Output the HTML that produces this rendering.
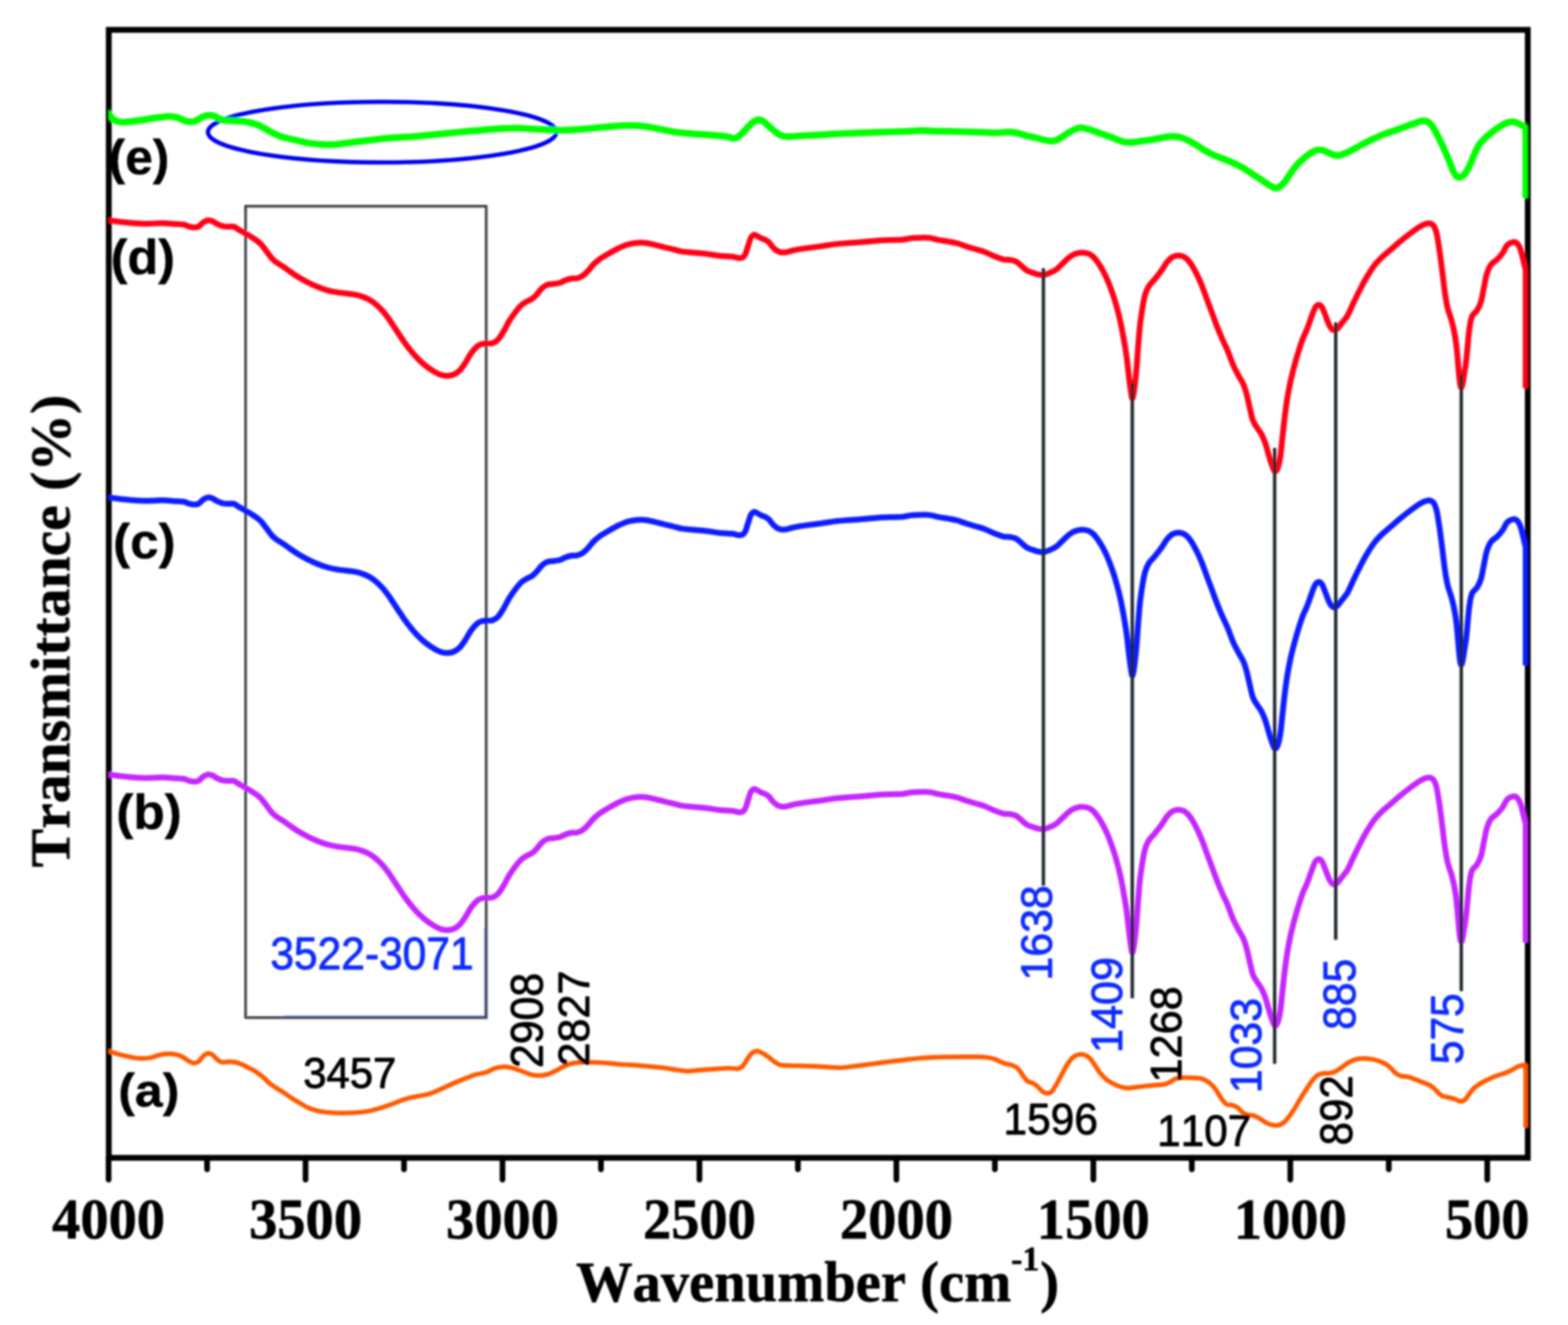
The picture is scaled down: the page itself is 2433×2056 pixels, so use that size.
<!DOCTYPE html>
<html lang="en"><head><meta charset="utf-8"><title>FTIR spectra</title>
<style>
html,body{margin:0;padding:0;background:#fff;}
body{width:2433px;height:2056px;overflow:hidden;}
svg{display:block;}
text{font-kerning:none;}
.ser{font-family:"Liberation Serif",serif;font-weight:bold;stroke:#000;stroke-width:0.9px;stroke-linejoin:round;}
.sb{font-family:"Liberation Sans",sans-serif;font-weight:bold;stroke:#000;stroke-width:0.6px;stroke-linejoin:round;}
.sn{font-family:"Liberation Sans",sans-serif;font-weight:normal;stroke-width:1.3px;stroke-linejoin:round;}
.crv{fill:none;stroke-linejoin:round;stroke-linecap:butt;}
</style></head><body>
<svg xmlns="http://www.w3.org/2000/svg" width="2433" height="2056" viewBox="0 0 2433 2056">
<defs><clipPath id="plotclip"><rect x="168.6" y="50" width="2202" height="1745"/></clipPath><filter id="soft" x="-2%" y="-2%" width="104%" height="104%"><feGaussianBlur stdDeviation="1.4"/></filter></defs>
<rect x="0" y="0" width="2433" height="2056" fill="#ffffff"/>
<g filter="url(#soft)">
<rect x="168.8" y="46.3" width="2201.8" height="1750.3" fill="none" stroke="#000" stroke-width="9.0"/>
<line x1="168.5" y1="1796.6" x2="168.5" y2="1830.5" stroke="#000" stroke-width="8.8" stroke-linecap="round"/>
<line x1="321.3" y1="1796.6" x2="321.3" y2="1814.5" stroke="#000" stroke-width="8.8" stroke-linecap="round"/>
<line x1="474.1" y1="1796.6" x2="474.1" y2="1830.5" stroke="#000" stroke-width="8.8" stroke-linecap="round"/>
<line x1="626.9" y1="1796.6" x2="626.9" y2="1814.5" stroke="#000" stroke-width="8.8" stroke-linecap="round"/>
<line x1="779.7" y1="1796.6" x2="779.7" y2="1830.5" stroke="#000" stroke-width="8.8" stroke-linecap="round"/>
<line x1="932.5" y1="1796.6" x2="932.5" y2="1814.5" stroke="#000" stroke-width="8.8" stroke-linecap="round"/>
<line x1="1085.3" y1="1796.6" x2="1085.3" y2="1830.5" stroke="#000" stroke-width="8.8" stroke-linecap="round"/>
<line x1="1238.1" y1="1796.6" x2="1238.1" y2="1814.5" stroke="#000" stroke-width="8.8" stroke-linecap="round"/>
<line x1="1390.9" y1="1796.6" x2="1390.9" y2="1830.5" stroke="#000" stroke-width="8.8" stroke-linecap="round"/>
<line x1="1543.7" y1="1796.6" x2="1543.7" y2="1814.5" stroke="#000" stroke-width="8.8" stroke-linecap="round"/>
<line x1="1696.5" y1="1796.6" x2="1696.5" y2="1830.5" stroke="#000" stroke-width="8.8" stroke-linecap="round"/>
<line x1="1849.3" y1="1796.6" x2="1849.3" y2="1814.5" stroke="#000" stroke-width="8.8" stroke-linecap="round"/>
<line x1="2002.1" y1="1796.6" x2="2002.1" y2="1830.5" stroke="#000" stroke-width="8.8" stroke-linecap="round"/>
<line x1="2154.9" y1="1796.6" x2="2154.9" y2="1814.5" stroke="#000" stroke-width="8.8" stroke-linecap="round"/>
<line x1="2307.7" y1="1796.6" x2="2307.7" y2="1830.5" stroke="#000" stroke-width="8.8" stroke-linecap="round"/>
<rect x="382.8" y="321.7" width="373.4" height="1259" fill="none" stroke="#b4bcbf" stroke-width="2.4"/>
<path d="M440 1576.6H752.2V1440" fill="none" stroke="#8f99ea" stroke-width="1.8"/>
<rect x="381" y="319.9" width="373.4" height="1259" fill="none" stroke="#232b30" stroke-width="3.6"/>
<ellipse cx="593" cy="205" rx="270.3" ry="47" fill="none" stroke="#0505f2" stroke-width="6.6"/>
<g clip-path="url(#plotclip)">
<path class="crv" d="M165.0 1629.8C165.6 1630.0 165.8 1630.0 168.6 1630.9C171.4 1631.8 177.0 1633.9 181.6 1635.2C186.2 1636.5 191.1 1637.7 195.9 1638.8C200.7 1639.9 206.0 1641.1 210.3 1641.7C214.6 1642.3 217.7 1642.5 221.8 1642.4C225.9 1642.3 230.4 1641.8 234.7 1640.9C239.0 1640.0 243.3 1638.0 247.6 1637.1C251.9 1636.1 256.3 1635.3 260.6 1635.2C264.9 1635.1 269.7 1635.8 273.5 1636.6C277.3 1637.4 280.5 1638.6 283.6 1640.2C286.7 1641.8 289.3 1644.4 292.2 1646.0C295.1 1647.6 298.2 1649.4 300.8 1649.6C303.4 1649.8 305.6 1649.2 308.0 1647.4C310.4 1645.6 312.8 1641.0 315.2 1638.8C317.6 1636.6 320.0 1634.9 322.4 1634.5C324.8 1634.1 327.1 1635.0 329.5 1636.6C331.9 1638.1 334.3 1641.9 336.7 1643.8C339.1 1645.7 341.0 1647.4 343.9 1648.1C346.8 1648.8 350.6 1647.7 354.0 1647.7C357.4 1647.7 360.4 1647.4 364.0 1648.1C367.6 1648.8 371.7 1650.1 375.5 1651.7C379.3 1653.3 383.2 1655.5 387.0 1657.5C390.8 1659.5 394.9 1661.5 398.5 1663.9C402.1 1666.3 405.2 1668.9 408.6 1671.8C412.0 1674.7 415.0 1678.3 418.6 1681.2C422.2 1684.1 426.3 1686.6 430.1 1689.1C433.9 1691.6 438.0 1693.9 441.6 1696.3C445.2 1698.7 448.2 1701.0 452.0 1703.5C455.8 1706.0 459.9 1708.6 464.4 1711.2C468.8 1713.8 473.9 1717.0 478.7 1719.1C483.5 1721.2 488.3 1722.5 493.1 1723.7C497.9 1724.9 502.7 1725.5 507.5 1726.0C512.3 1726.5 516.5 1726.8 521.8 1727.0C527.1 1727.2 533.1 1727.2 539.1 1727.0C545.1 1726.8 551.8 1726.6 557.8 1726.0C563.8 1725.4 569.5 1724.6 575.0 1723.4C580.5 1722.2 585.3 1720.8 590.8 1719.1C596.3 1717.4 602.7 1715.2 608.0 1713.3C613.3 1711.4 617.6 1709.3 622.4 1707.6C627.2 1705.9 632.0 1704.5 636.8 1703.3C641.6 1702.1 646.3 1701.4 651.1 1700.4C655.9 1699.4 660.7 1698.9 665.5 1697.5C670.3 1696.1 675.1 1693.8 679.9 1691.8C684.7 1689.8 689.5 1687.4 694.3 1685.3C699.1 1683.2 703.8 1680.9 708.6 1678.9C713.4 1676.9 718.2 1675.0 723.0 1673.1C727.8 1671.2 732.2 1669.1 737.4 1667.6C742.6 1666.1 749.2 1665.6 754.4 1663.9C759.6 1662.2 764.2 1658.8 768.7 1657.4C773.2 1656.0 777.6 1655.4 781.7 1655.3C785.8 1655.2 789.4 1655.9 793.2 1656.7C797.0 1657.5 800.9 1659.0 804.7 1660.3C808.5 1661.6 812.3 1663.3 816.1 1664.6C819.9 1665.9 823.8 1667.5 827.6 1668.2C831.4 1668.9 835.3 1669.1 839.1 1668.9C842.9 1668.7 846.8 1668.0 850.6 1666.8C854.4 1665.6 858.3 1663.6 862.1 1661.7C865.9 1659.8 870.0 1657.1 873.6 1655.3C877.2 1653.5 880.1 1652.1 883.7 1651.0C887.3 1649.9 890.9 1649.3 895.2 1648.8C899.5 1648.3 904.2 1648.1 909.5 1648.1C914.8 1648.0 920.3 1648.2 926.8 1648.5C933.3 1648.8 941.1 1649.6 948.3 1650.2C955.5 1650.8 962.7 1651.5 969.9 1652.0C977.1 1652.5 984.2 1652.9 991.4 1653.4C998.6 1654.0 1006.6 1654.7 1013.0 1655.3C1019.4 1655.9 1024.3 1656.3 1030.0 1657.0C1035.7 1657.7 1041.2 1658.8 1047.2 1659.6C1053.2 1660.4 1059.2 1662.0 1065.9 1662.1C1072.6 1662.2 1080.3 1660.8 1087.5 1660.3C1094.7 1659.8 1101.8 1659.4 1109.0 1658.9C1116.2 1658.4 1124.6 1657.6 1130.6 1657.5C1136.6 1657.4 1141.4 1658.7 1145.0 1658.2C1148.6 1657.7 1149.7 1657.0 1152.1 1654.6C1154.5 1652.2 1156.9 1647.1 1159.3 1643.8C1161.7 1640.5 1164.0 1636.7 1166.5 1634.5C1169.0 1632.3 1171.8 1631.0 1174.4 1630.9C1177.0 1630.8 1179.3 1632.2 1182.3 1633.8C1185.3 1635.3 1189.1 1637.8 1192.4 1640.2C1195.8 1642.6 1199.3 1646.1 1202.4 1648.1C1205.5 1650.1 1207.5 1651.5 1211.1 1652.4C1214.7 1653.3 1218.3 1653.2 1224.0 1653.4C1229.7 1653.7 1238.3 1653.7 1245.5 1653.9C1252.7 1654.1 1259.9 1654.2 1267.1 1654.6C1274.3 1654.9 1282.6 1655.6 1288.6 1656.0C1294.6 1656.4 1297.8 1656.9 1303.0 1656.8C1308.2 1656.7 1313.6 1655.9 1320.0 1655.2C1326.4 1654.5 1334.4 1653.3 1341.6 1652.4C1348.8 1651.5 1355.9 1650.5 1363.1 1649.6C1370.3 1648.6 1377.5 1647.6 1384.7 1646.7C1391.9 1645.8 1399.0 1645.1 1406.2 1644.3C1413.4 1643.5 1420.6 1642.6 1427.8 1642.0C1435.0 1641.4 1442.1 1641.0 1449.3 1640.7C1456.5 1640.4 1463.7 1640.3 1470.9 1640.2C1478.1 1640.1 1485.2 1640.0 1492.4 1639.9C1499.6 1639.9 1508.0 1639.8 1514.0 1639.9C1520.0 1640.0 1523.5 1640.0 1528.3 1640.5C1533.1 1641.0 1537.9 1641.6 1542.7 1643.1C1547.5 1644.6 1552.3 1647.9 1557.1 1649.6C1561.9 1651.3 1567.6 1651.7 1571.4 1653.2C1575.2 1654.8 1577.5 1656.3 1580.1 1658.9C1582.7 1661.5 1584.8 1665.9 1587.2 1669.0C1589.6 1672.1 1591.9 1675.7 1594.4 1677.6C1596.9 1679.5 1599.6 1679.2 1602.0 1680.4C1604.4 1681.6 1606.1 1682.6 1608.6 1684.7C1611.1 1686.8 1614.6 1691.3 1617.2 1693.3C1619.8 1695.3 1622.0 1696.4 1624.4 1696.5C1626.8 1696.6 1629.2 1696.3 1631.6 1694.1C1634.0 1691.9 1636.2 1687.7 1638.8 1683.3C1641.4 1678.9 1644.5 1672.8 1647.4 1667.5C1650.3 1662.2 1653.1 1656.1 1656.0 1651.7C1658.9 1647.3 1661.8 1643.4 1664.7 1640.9C1667.6 1638.4 1670.4 1637.3 1673.3 1636.6C1676.2 1635.9 1679.0 1635.8 1681.9 1636.6C1684.8 1637.4 1687.6 1638.8 1690.5 1641.6C1693.4 1644.3 1696.2 1649.0 1699.1 1653.1C1702.0 1657.2 1704.9 1662.4 1707.8 1666.0C1710.7 1669.6 1713.3 1672.2 1716.4 1674.7C1719.5 1677.2 1722.8 1679.2 1726.4 1681.1C1730.0 1683.0 1734.1 1684.9 1737.9 1686.1C1741.7 1687.3 1745.1 1688.2 1749.4 1688.3C1753.7 1688.4 1758.8 1687.5 1763.8 1686.9C1768.8 1686.4 1774.6 1685.5 1779.6 1685.0C1784.6 1684.5 1789.5 1684.0 1794.0 1683.6C1798.5 1683.2 1803.3 1683.4 1806.9 1682.6C1810.5 1681.8 1812.6 1680.5 1815.5 1679.0C1818.4 1677.5 1820.8 1675.1 1824.1 1673.9C1827.4 1672.8 1831.3 1672.3 1835.6 1672.1C1839.9 1671.9 1845.7 1672.3 1850.0 1672.5C1854.3 1672.7 1857.9 1672.5 1861.5 1673.2C1865.1 1673.9 1868.5 1675.1 1871.6 1676.8C1874.7 1678.5 1877.6 1680.8 1880.2 1683.3C1882.8 1685.8 1885.1 1688.6 1887.4 1691.9C1889.7 1695.2 1891.4 1699.4 1894.0 1703.0C1896.6 1706.6 1900.0 1711.4 1902.9 1713.4C1905.8 1715.4 1908.7 1714.0 1911.6 1714.8C1914.5 1715.6 1917.6 1716.6 1920.2 1718.4C1922.8 1720.2 1924.8 1723.7 1927.4 1725.6C1930.0 1727.5 1932.9 1728.9 1936.0 1729.9C1939.1 1730.9 1942.9 1730.4 1946.0 1731.4C1949.1 1732.4 1951.6 1733.9 1954.7 1735.7C1957.8 1737.5 1961.4 1740.4 1964.7 1742.1C1968.0 1743.8 1971.7 1745.0 1974.8 1745.7C1977.9 1746.4 1980.5 1746.7 1983.4 1746.1C1986.3 1745.5 1989.1 1744.4 1992.0 1742.1C1994.9 1739.8 1997.7 1735.9 2000.6 1732.1C2003.5 1728.3 2006.4 1723.6 2009.3 1719.1C2012.2 1714.5 2015.0 1709.5 2017.9 1704.8C2020.8 1700.1 2023.6 1695.5 2026.5 1691.1C2029.4 1686.7 2032.2 1681.9 2035.1 1678.2C2038.0 1674.5 2040.8 1671.0 2043.7 1668.9C2046.6 1666.8 2049.3 1666.3 2052.4 1665.7C2055.5 1665.1 2059.1 1665.8 2062.4 1665.3C2065.8 1664.8 2069.2 1664.0 2072.5 1662.4C2075.8 1660.8 2079.2 1658.2 2082.5 1655.9C2085.8 1653.6 2089.2 1650.7 2092.6 1648.7C2095.9 1646.7 2099.0 1645.2 2102.6 1644.1C2106.2 1643.0 2110.0 1642.4 2114.1 1642.3C2118.2 1642.2 2123.0 1642.7 2127.1 1643.3C2131.2 1643.9 2135.0 1644.9 2138.6 1646.1C2142.2 1647.2 2145.5 1648.5 2148.6 1650.2C2151.7 1652.0 2154.3 1654.0 2157.2 1656.6C2160.1 1659.1 2163.1 1663.3 2165.9 1665.5C2168.7 1667.7 2171.0 1668.8 2174.2 1669.7C2177.4 1670.6 2181.0 1670.1 2184.9 1671.1C2188.8 1672.0 2193.2 1673.9 2197.4 1675.4C2201.6 1677.0 2205.9 1678.7 2209.8 1680.4C2213.7 1682.1 2217.7 1683.2 2221.0 1685.4C2224.3 1687.6 2227.0 1691.0 2229.7 1693.5C2232.4 1696.0 2234.3 1698.8 2237.2 1700.3C2240.1 1701.8 2243.9 1702.0 2247.2 1702.8C2250.5 1703.6 2254.2 1704.3 2257.1 1705.3C2260.0 1706.3 2262.1 1708.4 2264.6 1708.7C2267.1 1709.0 2269.8 1708.7 2272.1 1707.2C2274.4 1705.7 2276.0 1702.6 2278.3 1699.7C2280.6 1696.8 2283.1 1692.5 2285.8 1689.7C2288.5 1686.9 2291.0 1685.2 2294.5 1682.9C2298.0 1680.6 2302.6 1678.2 2306.9 1676.0C2311.2 1673.8 2316.0 1671.5 2320.6 1669.8C2325.2 1668.0 2330.2 1667.0 2334.3 1665.5C2338.5 1664.0 2342.0 1662.3 2345.5 1660.5C2349.0 1658.7 2352.4 1656.2 2355.5 1654.9C2358.6 1653.6 2362.2 1652.8 2364.2 1652.6C2366.2 1652.4 2366.8 1653.3 2367.3 1653.5L2367.3 1749.6" stroke="#ff5a00" stroke-width="7.2"/>
<path class="crv" d="M165.0 1201.8C166.0 1201.9 166.9 1201.8 170.8 1202.3C174.8 1202.8 182.1 1203.8 188.7 1204.5C195.3 1205.2 203.1 1206.2 210.3 1206.6C217.5 1207.0 224.9 1207.2 231.8 1207.1C238.8 1207.0 245.8 1206.2 252.0 1206.2C258.2 1206.2 263.7 1207.0 269.2 1207.4C274.7 1207.8 280.9 1207.8 285.0 1208.5C289.1 1209.2 291.0 1211.0 293.6 1211.7C296.2 1212.4 298.4 1212.8 300.8 1212.8C303.2 1212.8 305.6 1213.0 308.0 1211.7C310.4 1210.4 312.8 1206.8 315.2 1205.2C317.6 1203.6 320.0 1202.2 322.4 1201.9C324.8 1201.6 327.1 1202.3 329.5 1203.3C331.9 1204.2 334.1 1206.3 336.7 1207.6C339.3 1208.9 342.4 1210.2 345.3 1210.9C348.2 1211.6 351.1 1211.6 354.0 1211.7C356.9 1211.8 360.0 1211.0 362.6 1211.7C365.2 1212.4 366.9 1214.3 369.8 1216.0C372.7 1217.7 376.0 1219.4 379.8 1221.7C383.6 1224.0 388.7 1226.8 392.8 1229.6C396.9 1232.3 401.0 1235.0 404.3 1238.2C407.6 1241.4 410.0 1245.3 412.9 1249.0C415.8 1252.7 418.9 1257.5 421.5 1260.5C424.1 1263.5 425.6 1264.7 428.7 1267.0C431.8 1269.3 436.6 1271.8 440.2 1274.2C443.8 1276.6 446.2 1278.7 450.2 1281.5C454.2 1284.3 459.6 1288.0 464.4 1290.9C469.1 1293.8 473.9 1296.4 478.7 1298.8C483.5 1301.2 488.3 1303.4 493.1 1305.3C497.9 1307.2 502.7 1308.9 507.5 1310.3C512.3 1311.7 517.0 1312.6 521.8 1313.4C526.6 1314.2 531.4 1314.7 536.2 1315.3C541.0 1315.9 546.3 1316.4 550.6 1317.2C554.9 1318.0 558.3 1318.9 562.1 1320.3C565.9 1321.7 570.0 1323.4 573.6 1325.4C577.2 1327.5 580.2 1329.7 583.6 1332.6C587.0 1335.5 590.6 1339.1 593.7 1342.6C596.8 1346.1 599.4 1349.5 602.3 1353.4C605.2 1357.4 608.0 1362.0 610.9 1366.3C613.8 1370.6 616.6 1375.0 619.5 1379.3C622.4 1383.6 625.1 1387.9 628.2 1392.2C631.3 1396.5 634.6 1400.8 638.2 1405.1C641.8 1409.4 645.9 1414.2 649.7 1418.0C653.5 1421.8 657.4 1425.1 661.2 1428.1C665.0 1431.1 669.1 1433.8 672.7 1436.0C676.3 1438.2 679.4 1440.1 682.8 1441.3C686.1 1442.5 689.4 1443.1 692.8 1443.2C696.1 1443.3 699.5 1443.1 702.9 1441.8C706.2 1440.5 709.8 1438.3 712.9 1435.3C716.0 1432.3 718.7 1428.1 721.6 1423.8C724.5 1419.5 727.3 1413.5 730.2 1409.4C733.1 1405.3 736.2 1401.5 738.8 1399.0C741.4 1396.5 743.4 1395.4 746.0 1394.4C748.6 1393.4 751.3 1393.4 754.4 1393.1C757.5 1392.8 761.3 1393.5 764.4 1392.4C767.5 1391.3 770.1 1389.8 773.0 1386.7C775.9 1383.6 778.8 1378.5 781.7 1373.7C784.6 1368.9 787.2 1362.9 790.3 1357.9C793.4 1352.9 797.2 1347.7 800.3 1343.6C803.4 1339.5 806.1 1336.1 809.0 1333.5C811.9 1330.9 814.7 1329.5 817.6 1327.8C820.5 1326.1 823.6 1325.3 826.2 1323.4C828.8 1321.5 831.0 1318.9 833.4 1316.3C835.8 1313.7 838.0 1310.0 840.6 1307.6C843.2 1305.2 846.1 1303.1 849.2 1301.9C852.3 1300.7 855.9 1301.0 859.3 1300.5C862.6 1300.0 866.2 1299.7 869.3 1298.7C872.4 1297.7 875.0 1295.8 877.9 1294.7C880.8 1293.6 883.7 1292.8 886.6 1292.3C889.5 1291.8 892.3 1292.5 895.2 1291.8C898.1 1291.1 900.9 1290.1 903.8 1288.2C906.7 1286.3 909.5 1283.3 912.4 1280.3C915.3 1277.3 917.9 1273.4 921.0 1270.3C924.1 1267.2 927.3 1264.5 931.1 1261.7C934.9 1259.0 939.5 1256.4 944.0 1253.8C948.5 1251.2 953.6 1248.2 958.4 1245.9C963.2 1243.6 968.0 1241.3 972.8 1239.8C977.6 1238.3 982.3 1237.4 987.1 1236.9C991.9 1236.4 996.7 1236.4 1001.5 1236.9C1006.3 1237.4 1011.1 1238.7 1015.9 1239.8C1020.7 1240.9 1025.5 1242.3 1030.2 1243.5C1035.0 1244.7 1039.7 1245.6 1044.4 1246.8C1049.2 1248.0 1053.9 1249.6 1058.7 1250.4C1063.5 1251.2 1068.3 1251.4 1073.1 1251.8C1077.9 1252.2 1082.7 1252.5 1087.5 1253.0C1092.3 1253.5 1097.0 1254.0 1101.8 1254.7C1106.6 1255.4 1111.4 1256.4 1116.2 1256.9C1121.0 1257.4 1126.8 1257.6 1130.6 1257.9C1134.4 1258.2 1136.6 1258.3 1139.2 1258.7C1141.8 1259.1 1144.2 1260.3 1146.4 1260.5C1148.6 1260.7 1150.4 1260.7 1152.1 1259.7C1153.8 1258.7 1155.0 1257.7 1156.4 1254.7C1157.8 1251.7 1159.2 1246.1 1160.7 1241.8C1162.2 1237.5 1163.5 1231.8 1165.1 1228.9C1166.7 1226.0 1168.4 1224.7 1170.1 1224.3C1171.8 1223.9 1173.3 1225.4 1175.1 1226.3C1176.9 1227.2 1178.8 1228.6 1180.9 1229.6C1183.1 1230.6 1185.8 1231.2 1188.0 1232.4C1190.2 1233.6 1191.9 1234.9 1193.8 1236.8C1195.7 1238.7 1197.3 1241.8 1199.5 1243.9C1201.7 1246.1 1204.3 1248.4 1206.7 1249.7C1209.1 1251.0 1211.5 1251.6 1213.9 1251.8C1216.3 1252.0 1217.8 1251.8 1221.1 1251.1C1224.4 1250.4 1228.7 1248.8 1234.0 1247.8C1239.3 1246.8 1246.0 1245.9 1252.7 1244.9C1259.4 1244.0 1267.0 1243.1 1274.2 1242.1C1281.4 1241.1 1288.6 1239.8 1295.8 1238.9C1303.0 1238.1 1309.7 1237.6 1317.3 1237.0C1324.9 1236.4 1334.0 1235.9 1341.6 1235.3C1349.2 1234.7 1355.9 1233.7 1363.1 1233.2C1370.3 1232.7 1378.5 1232.6 1384.7 1232.4C1390.9 1232.2 1395.7 1232.5 1400.5 1232.0C1405.3 1231.5 1408.9 1230.1 1413.4 1229.6C1418.0 1229.1 1423.0 1229.0 1427.8 1228.9C1432.6 1228.8 1437.3 1228.5 1442.1 1229.1C1446.9 1229.7 1451.7 1231.5 1456.5 1232.4C1461.3 1233.3 1466.1 1233.8 1470.9 1234.6C1475.7 1235.4 1480.4 1236.2 1485.2 1237.5C1490.0 1238.8 1494.8 1241.0 1499.6 1242.5C1504.4 1244.0 1509.2 1245.4 1514.0 1246.8C1518.8 1248.2 1523.5 1249.3 1528.3 1251.1C1533.1 1252.9 1537.9 1255.7 1542.7 1257.6C1547.5 1259.5 1553.0 1261.6 1557.1 1262.6C1561.2 1263.5 1563.8 1262.7 1567.1 1263.3C1570.4 1263.9 1574.1 1264.5 1577.2 1266.2C1580.3 1267.9 1583.2 1271.2 1585.8 1273.4C1588.4 1275.6 1590.5 1277.9 1593.0 1279.5C1595.5 1281.1 1598.4 1281.8 1601.0 1282.8C1603.6 1283.8 1605.9 1284.6 1608.8 1285.3C1611.7 1286.0 1615.2 1287.0 1618.4 1286.8C1621.6 1286.5 1624.7 1285.1 1628.0 1283.8C1631.3 1282.5 1634.8 1281.2 1638.3 1278.7C1641.8 1276.2 1645.2 1272.3 1648.7 1269.1C1652.2 1265.9 1655.8 1262.0 1659.0 1259.5C1662.2 1257.0 1664.6 1255.5 1667.8 1254.3C1671.0 1253.1 1674.6 1252.2 1678.1 1252.1C1681.5 1252.0 1685.5 1252.6 1688.5 1253.6C1691.5 1254.6 1693.3 1255.8 1695.8 1258.0C1698.2 1260.2 1700.7 1263.5 1703.2 1266.9C1705.7 1270.4 1708.1 1274.3 1710.6 1278.7C1713.0 1283.1 1715.5 1287.8 1717.9 1293.4C1720.4 1299.1 1722.8 1305.5 1725.3 1312.6C1727.8 1319.7 1730.5 1328.2 1732.7 1336.1C1734.9 1343.9 1736.8 1351.3 1738.6 1359.7C1740.4 1368.1 1742.1 1377.2 1743.7 1386.3C1745.3 1395.4 1746.9 1404.7 1748.2 1414.3C1749.5 1423.9 1750.6 1435.5 1751.6 1443.8C1752.6 1452.1 1753.3 1458.2 1754.2 1464.0C1755.1 1469.8 1756.0 1478.5 1757.0 1478.5C1758.0 1478.5 1759.0 1471.0 1760.0 1464.0C1761.0 1457.0 1762.1 1447.2 1763.1 1436.4C1764.1 1425.7 1765.0 1411.3 1765.9 1399.5C1766.9 1387.7 1767.7 1375.7 1768.8 1365.6C1769.9 1355.5 1771.2 1347.2 1772.5 1339.1C1773.8 1331.0 1775.2 1322.9 1776.9 1317.0C1778.6 1311.1 1780.3 1307.6 1782.8 1303.7C1785.3 1299.8 1788.5 1297.3 1791.7 1293.4C1794.9 1289.5 1798.8 1284.5 1802.0 1280.1C1805.2 1275.7 1807.8 1270.5 1810.8 1266.9C1813.8 1263.3 1816.8 1260.4 1819.7 1258.7C1822.7 1257.0 1825.5 1256.5 1828.5 1256.5C1831.5 1256.5 1834.5 1257.0 1837.4 1258.7C1840.4 1260.4 1843.3 1263.1 1846.2 1266.9C1849.1 1270.7 1852.0 1275.9 1855.0 1281.6C1858.0 1287.2 1861.0 1293.7 1863.9 1300.8C1866.9 1307.9 1869.9 1316.9 1872.7 1324.4C1875.5 1331.9 1878.2 1339.1 1880.8 1346.0C1883.4 1352.9 1885.6 1359.4 1888.2 1366.0C1890.8 1372.6 1893.7 1379.5 1896.4 1385.8C1899.2 1392.1 1902.0 1397.2 1904.7 1403.8C1907.5 1410.4 1910.2 1418.9 1912.9 1425.2C1915.6 1431.5 1918.4 1436.4 1921.1 1441.6C1923.8 1446.8 1927.1 1451.5 1929.3 1456.4C1931.5 1461.3 1932.5 1465.2 1934.2 1471.2C1935.9 1477.2 1937.6 1485.8 1939.2 1492.6C1940.8 1499.4 1942.2 1507.1 1944.1 1512.3C1946.0 1517.5 1948.5 1520.3 1950.7 1523.9C1952.9 1527.5 1955.2 1529.9 1957.3 1533.7C1959.3 1537.5 1961.2 1542.0 1963.0 1546.9C1964.8 1551.8 1966.2 1557.8 1967.9 1563.3C1969.6 1568.8 1971.2 1575.0 1972.9 1579.7C1974.6 1584.4 1976.2 1590.2 1977.8 1591.3C1979.4 1592.4 1981.2 1590.4 1982.7 1586.3C1984.2 1582.2 1985.7 1574.8 1986.9 1566.6C1988.1 1558.4 1989.0 1546.9 1990.1 1537.0C1991.2 1527.1 1992.2 1517.3 1993.4 1507.4C1994.6 1497.5 1996.0 1487.1 1997.5 1477.8C1999.0 1468.5 2000.7 1459.7 2002.5 1451.5C2004.3 1443.3 2006.2 1436.2 2008.2 1428.5C2010.2 1420.8 2012.6 1412.6 2014.8 1405.5C2017.0 1398.4 2019.2 1391.5 2021.4 1385.8C2023.6 1380.0 2025.8 1376.5 2028.0 1371.0C2030.2 1365.5 2032.5 1358.4 2034.5 1352.9C2036.5 1347.4 2038.5 1341.4 2040.3 1338.1C2042.1 1334.8 2043.4 1333.5 2045.2 1333.2C2047.0 1332.9 2049.1 1333.7 2051.0 1336.4C2052.9 1339.1 2054.8 1344.9 2056.7 1349.6C2058.6 1354.3 2060.6 1360.7 2062.5 1364.4C2064.4 1368.1 2066.3 1370.7 2068.2 1371.8C2070.1 1372.9 2071.7 1372.8 2074.0 1371.0C2076.3 1369.2 2079.4 1364.7 2082.2 1361.1C2085.0 1357.5 2088.1 1354.6 2091.0 1349.5C2093.9 1344.4 2096.8 1337.0 2099.9 1330.5C2103.0 1324.0 2106.4 1316.9 2109.7 1310.5C2113.0 1304.1 2116.0 1298.0 2119.6 1291.9C2123.2 1285.8 2127.3 1279.0 2131.1 1273.8C2134.9 1268.6 2138.5 1264.8 2142.6 1260.7C2146.7 1256.6 2151.4 1253.0 2155.8 1249.2C2160.2 1245.4 2164.5 1241.4 2168.9 1237.7C2173.3 1234.0 2177.7 1230.4 2182.1 1227.0C2186.5 1223.6 2191.1 1220.0 2195.2 1217.1C2199.3 1214.2 2203.1 1211.5 2206.7 1209.7C2210.3 1207.9 2213.7 1206.4 2216.6 1206.4C2219.5 1206.4 2221.9 1207.2 2224.0 1209.7C2226.1 1212.2 2227.5 1216.3 2228.9 1221.2C2230.3 1226.1 2231.1 1232.5 2232.2 1239.3C2233.3 1246.1 2234.4 1254.1 2235.5 1262.3C2236.6 1270.5 2237.7 1279.8 2238.8 1288.6C2239.9 1297.4 2240.9 1306.7 2242.1 1314.9C2243.3 1323.1 2244.6 1331.2 2246.2 1338.0C2247.8 1344.8 2250.3 1350.2 2251.9 1356.0C2253.5 1361.8 2254.8 1366.5 2256.0 1372.5C2257.2 1378.5 2258.4 1385.4 2259.3 1392.2C2260.2 1399.0 2260.8 1406.0 2261.5 1413.6C2262.2 1421.2 2263.0 1431.3 2263.6 1438.0C2264.2 1444.7 2264.7 1450.1 2265.3 1454.0C2265.9 1457.9 2266.7 1461.6 2267.4 1461.6C2268.2 1461.6 2269.0 1457.6 2269.8 1454.0C2270.6 1450.4 2271.1 1445.7 2272.0 1440.0C2272.9 1434.3 2274.1 1427.5 2275.0 1420.1C2275.9 1412.7 2276.6 1403.7 2277.4 1395.5C2278.2 1387.3 2278.8 1378.2 2279.9 1370.8C2281.0 1363.4 2281.9 1356.0 2284.0 1351.1C2286.1 1346.2 2289.9 1345.0 2292.2 1341.2C2294.5 1337.4 2296.3 1333.6 2298.0 1328.1C2299.7 1322.6 2300.6 1315.5 2302.1 1308.4C2303.6 1301.3 2305.1 1291.6 2307.0 1285.3C2308.9 1279.0 2310.9 1274.4 2313.6 1270.6C2316.3 1266.8 2320.4 1265.3 2323.4 1262.3C2326.4 1259.3 2329.2 1256.0 2331.7 1252.5C2334.2 1249.0 2335.7 1243.8 2338.2 1241.0C2340.7 1238.2 2344.0 1236.7 2346.5 1236.0C2349.0 1235.3 2350.9 1235.2 2353.0 1236.9C2355.1 1238.6 2357.2 1241.9 2358.8 1245.9C2360.5 1249.9 2361.5 1255.2 2362.9 1260.7C2364.3 1266.2 2366.6 1276.0 2367.3 1279.0L2367.3 1462.6" stroke="#c526ff" stroke-width="9.0"/>
<path class="crv" d="M165.0 771.8C166.0 771.9 166.9 771.8 170.8 772.3C174.8 772.8 182.1 773.8 188.7 774.5C195.3 775.2 203.1 776.2 210.3 776.6C217.5 777.0 224.9 777.2 231.8 777.1C238.8 777.0 245.8 776.2 252.0 776.2C258.2 776.2 263.7 777.0 269.2 777.4C274.7 777.8 280.9 777.8 285.0 778.5C289.1 779.2 291.0 781.0 293.6 781.7C296.2 782.4 298.4 782.8 300.8 782.8C303.2 782.8 305.6 783.0 308.0 781.7C310.4 780.4 312.8 776.8 315.2 775.2C317.6 773.6 320.0 772.2 322.4 771.9C324.8 771.6 327.1 772.3 329.5 773.3C331.9 774.2 334.1 776.3 336.7 777.6C339.3 778.9 342.4 780.2 345.3 780.9C348.2 781.6 351.1 781.6 354.0 781.7C356.9 781.8 360.0 781.0 362.6 781.7C365.2 782.4 366.9 784.3 369.8 786.0C372.7 787.7 376.0 789.4 379.8 791.7C383.6 794.0 388.7 796.9 392.8 799.6C396.9 802.4 401.0 805.0 404.3 808.2C407.6 811.4 410.0 815.3 412.9 819.0C415.8 822.7 418.9 827.5 421.5 830.5C424.1 833.5 425.6 834.7 428.7 837.0C431.8 839.3 436.6 841.8 440.2 844.2C443.8 846.6 446.2 848.7 450.2 851.5C454.2 854.3 459.6 858.0 464.4 860.9C469.1 863.8 473.9 866.4 478.7 868.8C483.5 871.2 488.3 873.4 493.1 875.3C497.9 877.2 502.7 878.9 507.5 880.3C512.3 881.6 517.0 882.6 521.8 883.4C526.6 884.2 531.4 884.7 536.2 885.3C541.0 885.9 546.3 886.4 550.6 887.2C554.9 888.0 558.3 888.9 562.1 890.3C565.9 891.7 570.0 893.3 573.6 895.4C577.2 897.5 580.2 899.7 583.6 902.6C587.0 905.5 590.6 909.1 593.7 912.6C596.8 916.1 599.4 919.5 602.3 923.4C605.2 927.3 608.0 932.0 610.9 936.3C613.8 940.6 616.6 945.0 619.5 949.3C622.4 953.6 625.1 957.9 628.2 962.2C631.3 966.5 634.6 970.8 638.2 975.1C641.8 979.4 645.9 984.2 649.7 988.0C653.5 991.8 657.4 995.1 661.2 998.1C665.0 1001.1 669.1 1003.8 672.7 1006.0C676.3 1008.2 679.4 1010.1 682.8 1011.3C686.1 1012.5 689.4 1013.1 692.8 1013.2C696.1 1013.3 699.5 1013.1 702.9 1011.8C706.2 1010.5 709.8 1008.3 712.9 1005.3C716.0 1002.3 718.7 998.1 721.6 993.8C724.5 989.5 727.3 983.5 730.2 979.4C733.1 975.3 736.2 971.5 738.8 969.0C741.4 966.5 743.4 965.4 746.0 964.4C748.6 963.4 751.3 963.4 754.4 963.1C757.5 962.8 761.3 963.5 764.4 962.4C767.5 961.3 770.1 959.8 773.0 956.7C775.9 953.6 778.8 948.5 781.7 943.7C784.6 938.9 787.2 932.9 790.3 927.9C793.4 922.9 797.2 917.7 800.3 913.6C803.4 909.5 806.1 906.1 809.0 903.5C811.9 900.9 814.7 899.5 817.6 897.8C820.5 896.1 823.6 895.3 826.2 893.4C828.8 891.5 831.0 888.9 833.4 886.3C835.8 883.7 838.0 880.0 840.6 877.6C843.2 875.2 846.1 873.1 849.2 871.9C852.3 870.7 855.9 871.0 859.3 870.5C862.6 870.0 866.2 869.7 869.3 868.7C872.4 867.7 875.0 865.8 877.9 864.7C880.8 863.6 883.7 862.8 886.6 862.3C889.5 861.8 892.3 862.5 895.2 861.8C898.1 861.1 900.9 860.1 903.8 858.2C906.7 856.3 909.5 853.3 912.4 850.3C915.3 847.3 917.9 843.4 921.0 840.3C924.1 837.2 927.3 834.5 931.1 831.7C934.9 829.0 939.5 826.4 944.0 823.8C948.5 821.2 953.6 818.2 958.4 815.9C963.2 813.6 968.0 811.3 972.8 809.8C977.6 808.3 982.3 807.4 987.1 806.9C991.9 806.4 996.7 806.4 1001.5 806.9C1006.3 807.4 1011.1 808.7 1015.9 809.8C1020.7 810.9 1025.5 812.3 1030.2 813.5C1035.0 814.7 1039.7 815.6 1044.4 816.8C1049.2 817.9 1053.9 819.6 1058.7 820.4C1063.5 821.2 1068.3 821.4 1073.1 821.8C1077.9 822.2 1082.7 822.5 1087.5 823.0C1092.3 823.5 1097.0 824.1 1101.8 824.7C1106.6 825.4 1111.4 826.4 1116.2 826.9C1121.0 827.4 1126.8 827.6 1130.6 827.9C1134.4 828.2 1136.6 828.3 1139.2 828.7C1141.8 829.1 1144.2 830.3 1146.4 830.5C1148.6 830.7 1150.4 830.7 1152.1 829.7C1153.8 828.7 1155.0 827.7 1156.4 824.7C1157.8 821.7 1159.2 816.1 1160.7 811.8C1162.2 807.5 1163.5 801.8 1165.1 798.9C1166.7 796.0 1168.4 794.7 1170.1 794.3C1171.8 793.9 1173.3 795.4 1175.1 796.3C1176.9 797.2 1178.8 798.6 1180.9 799.6C1183.1 800.6 1185.8 801.2 1188.0 802.4C1190.2 803.6 1191.9 804.9 1193.8 806.8C1195.7 808.7 1197.3 811.8 1199.5 813.9C1201.7 816.0 1204.3 818.4 1206.7 819.7C1209.1 821.0 1211.5 821.6 1213.9 821.8C1216.3 822.0 1217.8 821.8 1221.1 821.1C1224.4 820.4 1228.7 818.8 1234.0 817.8C1239.3 816.8 1246.0 815.8 1252.7 814.9C1259.4 814.0 1267.0 813.1 1274.2 812.1C1281.4 811.1 1288.6 809.8 1295.8 808.9C1303.0 808.0 1309.7 807.6 1317.3 807.0C1324.9 806.4 1334.0 805.9 1341.6 805.3C1349.2 804.7 1355.9 803.7 1363.1 803.2C1370.3 802.7 1378.5 802.6 1384.7 802.4C1390.9 802.2 1395.7 802.5 1400.5 802.0C1405.3 801.5 1408.9 800.1 1413.4 799.6C1418.0 799.1 1423.0 799.0 1427.8 798.9C1432.6 798.8 1437.3 798.5 1442.1 799.1C1446.9 799.7 1451.7 801.5 1456.5 802.4C1461.3 803.3 1466.1 803.8 1470.9 804.6C1475.7 805.5 1480.4 806.2 1485.2 807.5C1490.0 808.8 1494.8 811.0 1499.6 812.5C1504.4 814.0 1509.2 815.4 1514.0 816.8C1518.8 818.2 1523.5 819.3 1528.3 821.1C1533.1 822.9 1537.9 825.7 1542.7 827.6C1547.5 829.5 1553.0 831.7 1557.1 832.6C1561.2 833.5 1563.8 832.7 1567.1 833.3C1570.4 833.9 1574.1 834.5 1577.2 836.2C1580.3 837.9 1583.2 841.2 1585.8 843.4C1588.4 845.6 1590.5 847.9 1593.0 849.5C1595.5 851.1 1598.4 851.8 1601.0 852.8C1603.6 853.8 1605.9 854.6 1608.8 855.3C1611.7 856.0 1615.2 857.0 1618.4 856.8C1621.6 856.5 1624.7 855.1 1628.0 853.8C1631.3 852.4 1634.8 851.2 1638.3 848.7C1641.8 846.2 1645.2 842.3 1648.7 839.1C1652.2 835.9 1655.8 832.0 1659.0 829.5C1662.2 827.0 1664.6 825.5 1667.8 824.3C1671.0 823.1 1674.6 822.2 1678.1 822.1C1681.5 822.0 1685.5 822.6 1688.5 823.6C1691.5 824.6 1693.3 825.8 1695.8 828.0C1698.2 830.2 1700.7 833.4 1703.2 836.9C1705.7 840.4 1708.1 844.3 1710.6 848.7C1713.0 853.1 1715.5 857.8 1717.9 863.4C1720.4 869.0 1722.8 875.5 1725.3 882.6C1727.8 889.7 1730.5 898.2 1732.7 906.1C1734.9 914.0 1736.8 921.3 1738.6 929.7C1740.4 938.1 1742.1 947.2 1743.7 956.3C1745.3 965.4 1746.9 974.7 1748.2 984.3C1749.5 993.9 1750.6 1005.5 1751.6 1013.8C1752.6 1022.1 1753.3 1028.2 1754.2 1034.0C1755.1 1039.8 1756.0 1048.5 1757.0 1048.5C1758.0 1048.5 1759.0 1041.0 1760.0 1034.0C1761.0 1027.0 1762.1 1017.1 1763.1 1006.4C1764.1 995.6 1765.0 981.3 1765.9 969.5C1766.9 957.7 1767.7 945.7 1768.8 935.6C1769.9 925.5 1771.2 917.2 1772.5 909.1C1773.8 901.0 1775.2 892.9 1776.9 887.0C1778.6 881.1 1780.3 877.6 1782.8 873.7C1785.3 869.8 1788.5 867.3 1791.7 863.4C1794.9 859.5 1798.8 854.5 1802.0 850.1C1805.2 845.7 1807.8 840.5 1810.8 836.9C1813.8 833.3 1816.8 830.4 1819.7 828.7C1822.7 827.0 1825.5 826.5 1828.5 826.5C1831.5 826.5 1834.5 827.0 1837.4 828.7C1840.4 830.4 1843.3 833.1 1846.2 836.9C1849.1 840.7 1852.0 846.0 1855.0 851.6C1858.0 857.2 1861.0 863.7 1863.9 870.8C1866.9 877.9 1869.9 886.9 1872.7 894.4C1875.5 901.9 1878.2 909.1 1880.8 916.0C1883.4 922.9 1885.6 929.4 1888.2 936.0C1890.8 942.6 1893.7 949.5 1896.4 955.8C1899.2 962.1 1902.0 967.2 1904.7 973.8C1907.5 980.4 1910.2 988.9 1912.9 995.2C1915.6 1001.5 1918.4 1006.4 1921.1 1011.6C1923.8 1016.8 1927.1 1021.5 1929.3 1026.4C1931.5 1031.3 1932.5 1035.2 1934.2 1041.2C1935.9 1047.2 1937.6 1055.8 1939.2 1062.6C1940.8 1069.4 1942.2 1077.1 1944.1 1082.3C1946.0 1087.5 1948.5 1090.3 1950.7 1093.9C1952.9 1097.5 1955.2 1099.9 1957.3 1103.7C1959.3 1107.5 1961.2 1112.0 1963.0 1116.9C1964.8 1121.8 1966.2 1127.8 1967.9 1133.3C1969.6 1138.8 1971.2 1145.0 1972.9 1149.7C1974.6 1154.4 1976.2 1160.2 1977.8 1161.3C1979.4 1162.4 1981.2 1160.4 1982.7 1156.3C1984.2 1152.2 1985.7 1144.8 1986.9 1136.6C1988.1 1128.4 1989.0 1116.9 1990.1 1107.0C1991.2 1097.1 1992.2 1087.3 1993.4 1077.4C1994.6 1067.5 1996.0 1057.1 1997.5 1047.8C1999.0 1038.5 2000.7 1029.7 2002.5 1021.5C2004.3 1013.3 2006.2 1006.2 2008.2 998.5C2010.2 990.8 2012.6 982.6 2014.8 975.5C2017.0 968.4 2019.2 961.5 2021.4 955.8C2023.6 950.0 2025.8 946.5 2028.0 941.0C2030.2 935.5 2032.5 928.4 2034.5 922.9C2036.5 917.4 2038.5 911.4 2040.3 908.1C2042.1 904.8 2043.4 903.5 2045.2 903.2C2047.0 902.9 2049.1 903.7 2051.0 906.4C2052.9 909.1 2054.8 914.9 2056.7 919.6C2058.6 924.3 2060.6 930.7 2062.5 934.4C2064.4 938.1 2066.3 940.7 2068.2 941.8C2070.1 942.9 2071.7 942.8 2074.0 941.0C2076.3 939.2 2079.4 934.7 2082.2 931.1C2085.0 927.5 2088.1 924.6 2091.0 919.5C2093.9 914.4 2096.8 907.0 2099.9 900.5C2103.0 894.0 2106.4 886.9 2109.7 880.5C2113.0 874.1 2116.0 868.0 2119.6 861.9C2123.2 855.8 2127.3 849.0 2131.1 843.8C2134.9 838.6 2138.5 834.8 2142.6 830.7C2146.7 826.6 2151.4 823.0 2155.8 819.2C2160.2 815.4 2164.5 811.4 2168.9 807.7C2173.3 804.0 2177.7 800.4 2182.1 797.0C2186.5 793.6 2191.1 790.0 2195.2 787.1C2199.3 784.2 2203.1 781.5 2206.7 779.7C2210.3 777.9 2213.7 776.4 2216.6 776.4C2219.5 776.4 2221.9 777.2 2224.0 779.7C2226.1 782.2 2227.5 786.3 2228.9 791.2C2230.3 796.1 2231.1 802.4 2232.2 809.3C2233.3 816.1 2234.4 824.1 2235.5 832.3C2236.6 840.5 2237.7 849.8 2238.8 858.6C2239.9 867.4 2240.9 876.7 2242.1 884.9C2243.3 893.1 2244.6 901.1 2246.2 908.0C2247.8 914.9 2250.3 920.2 2251.9 926.0C2253.5 931.8 2254.8 936.5 2256.0 942.5C2257.2 948.5 2258.4 955.4 2259.3 962.2C2260.2 969.1 2260.8 976.0 2261.5 983.6C2262.2 991.2 2263.0 1001.3 2263.6 1008.0C2264.2 1014.7 2264.7 1020.1 2265.3 1024.0C2265.9 1027.9 2266.7 1031.6 2267.4 1031.6C2268.2 1031.6 2269.0 1027.6 2269.8 1024.0C2270.6 1020.4 2271.1 1015.6 2272.0 1010.0C2272.9 1004.4 2274.1 997.5 2275.0 990.1C2275.9 982.7 2276.6 973.7 2277.4 965.5C2278.2 957.3 2278.8 948.2 2279.9 940.8C2281.0 933.4 2281.9 926.0 2284.0 921.1C2286.1 916.2 2289.9 915.0 2292.2 911.2C2294.5 907.4 2296.3 903.6 2298.0 898.1C2299.7 892.6 2300.6 885.5 2302.1 878.4C2303.6 871.3 2305.1 861.6 2307.0 855.3C2308.9 849.0 2310.9 844.4 2313.6 840.6C2316.3 836.8 2320.4 835.3 2323.4 832.3C2326.4 829.3 2329.2 826.0 2331.7 822.5C2334.2 819.0 2335.7 813.8 2338.2 811.0C2340.7 808.2 2344.0 806.7 2346.5 806.0C2349.0 805.3 2350.9 805.2 2353.0 806.9C2355.1 808.5 2357.2 811.9 2358.8 815.9C2360.5 819.9 2361.5 825.2 2362.9 830.7C2364.3 836.2 2366.6 846.0 2367.3 849.0L2367.3 1032.6" stroke="#0a1eff" stroke-width="9.0"/>
<path class="crv" d="M165.0 341.8C166.0 341.9 166.9 341.9 170.8 342.3C174.8 342.8 182.1 343.8 188.7 344.5C195.3 345.2 203.1 346.2 210.3 346.6C217.5 347.0 224.9 347.2 231.8 347.1C238.8 347.0 245.8 346.1 252.0 346.2C258.2 346.2 263.7 347.0 269.2 347.4C274.7 347.8 280.9 347.8 285.0 348.5C289.1 349.2 291.0 351.0 293.6 351.7C296.2 352.4 298.4 352.8 300.8 352.8C303.2 352.8 305.6 353.0 308.0 351.7C310.4 350.4 312.8 346.8 315.2 345.2C317.6 343.6 320.0 342.2 322.4 341.9C324.8 341.6 327.1 342.4 329.5 343.3C331.9 344.2 334.1 346.3 336.7 347.6C339.3 348.9 342.4 350.2 345.3 350.9C348.2 351.6 351.1 351.6 354.0 351.7C356.9 351.8 360.0 351.0 362.6 351.7C365.2 352.4 366.9 354.3 369.8 356.0C372.7 357.7 376.0 359.4 379.8 361.7C383.6 364.0 388.7 366.9 392.8 369.6C396.9 372.4 401.0 375.0 404.3 378.2C407.6 381.4 410.0 385.3 412.9 389.0C415.8 392.7 418.9 397.5 421.5 400.5C424.1 403.5 425.6 404.7 428.7 407.0C431.8 409.3 436.6 411.8 440.2 414.2C443.8 416.6 446.2 418.7 450.2 421.5C454.2 424.3 459.6 428.0 464.4 430.9C469.1 433.8 473.9 436.4 478.7 438.8C483.5 441.2 488.3 443.4 493.1 445.3C497.9 447.2 502.7 449.0 507.5 450.3C512.3 451.6 517.0 452.6 521.8 453.4C526.6 454.2 531.4 454.7 536.2 455.3C541.0 455.9 546.3 456.4 550.6 457.2C554.9 458.0 558.3 458.9 562.1 460.3C565.9 461.7 570.0 463.3 573.6 465.4C577.2 467.4 580.2 469.7 583.6 472.6C587.0 475.5 590.6 479.1 593.7 482.6C596.8 486.1 599.4 489.4 602.3 493.4C605.2 497.3 608.0 502.0 610.9 506.3C613.8 510.6 616.6 515.0 619.5 519.3C622.4 523.6 625.1 527.9 628.2 532.2C631.3 536.5 634.6 540.8 638.2 545.1C641.8 549.4 645.9 554.2 649.7 558.0C653.5 561.8 657.4 565.1 661.2 568.1C665.0 571.1 669.1 573.8 672.7 576.0C676.3 578.2 679.4 580.1 682.8 581.3C686.1 582.5 689.4 583.1 692.8 583.2C696.1 583.3 699.5 583.1 702.9 581.8C706.2 580.5 709.8 578.3 712.9 575.3C716.0 572.3 718.7 568.1 721.6 563.8C724.5 559.5 727.3 553.5 730.2 549.4C733.1 545.3 736.2 541.5 738.8 539.0C741.4 536.5 743.4 535.4 746.0 534.4C748.6 533.4 751.3 533.4 754.4 533.1C757.5 532.8 761.3 533.5 764.4 532.4C767.5 531.3 770.1 529.8 773.0 526.7C775.9 523.6 778.8 518.5 781.7 513.7C784.6 508.9 787.2 502.9 790.3 497.9C793.4 492.9 797.2 487.7 800.3 483.6C803.4 479.5 806.1 476.1 809.0 473.5C811.9 470.9 814.7 469.5 817.6 467.8C820.5 466.1 823.6 465.3 826.2 463.4C828.8 461.5 831.0 458.9 833.4 456.3C835.8 453.7 838.0 450.0 840.6 447.6C843.2 445.2 846.1 443.1 849.2 441.9C852.3 440.7 855.9 441.0 859.3 440.5C862.6 440.0 866.2 439.7 869.3 438.7C872.4 437.7 875.0 435.8 877.9 434.7C880.8 433.6 883.7 432.8 886.6 432.3C889.5 431.8 892.3 432.5 895.2 431.8C898.1 431.1 900.9 430.1 903.8 428.2C906.7 426.3 909.5 423.3 912.4 420.3C915.3 417.3 917.9 413.4 921.0 410.3C924.1 407.2 927.3 404.4 931.1 401.7C934.9 398.9 939.5 396.4 944.0 393.8C948.5 391.2 953.6 388.2 958.4 385.9C963.2 383.6 968.0 381.3 972.8 379.8C977.6 378.3 982.3 377.4 987.1 376.9C991.9 376.4 996.7 376.4 1001.5 376.9C1006.3 377.4 1011.1 378.7 1015.9 379.8C1020.7 380.9 1025.5 382.3 1030.2 383.5C1035.0 384.7 1039.7 385.7 1044.4 386.8C1049.2 387.9 1053.9 389.6 1058.7 390.4C1063.5 391.2 1068.3 391.4 1073.1 391.8C1077.9 392.2 1082.7 392.5 1087.5 393.0C1092.3 393.5 1097.0 394.1 1101.8 394.7C1106.6 395.3 1111.4 396.4 1116.2 396.9C1121.0 397.4 1126.8 397.6 1130.6 397.9C1134.4 398.2 1136.6 398.3 1139.2 398.7C1141.8 399.1 1144.2 400.3 1146.4 400.5C1148.6 400.7 1150.4 400.7 1152.1 399.7C1153.8 398.7 1155.0 397.7 1156.4 394.7C1157.8 391.7 1159.2 386.1 1160.7 381.8C1162.2 377.5 1163.5 371.8 1165.1 368.9C1166.7 366.0 1168.4 364.7 1170.1 364.3C1171.8 363.9 1173.3 365.4 1175.1 366.3C1176.9 367.2 1178.8 368.6 1180.9 369.6C1183.1 370.6 1185.8 371.2 1188.0 372.4C1190.2 373.6 1191.9 374.9 1193.8 376.8C1195.7 378.7 1197.3 381.8 1199.5 383.9C1201.7 386.0 1204.3 388.4 1206.7 389.7C1209.1 391.0 1211.5 391.6 1213.9 391.8C1216.3 392.0 1217.8 391.8 1221.1 391.1C1224.4 390.4 1228.7 388.8 1234.0 387.8C1239.3 386.8 1246.0 385.8 1252.7 384.9C1259.4 383.9 1267.0 383.1 1274.2 382.1C1281.4 381.1 1288.6 379.8 1295.8 378.9C1303.0 378.0 1309.7 377.6 1317.3 377.0C1324.9 376.4 1334.0 375.9 1341.6 375.3C1349.2 374.7 1355.9 373.7 1363.1 373.2C1370.3 372.7 1378.5 372.6 1384.7 372.4C1390.9 372.2 1395.7 372.5 1400.5 372.0C1405.3 371.5 1408.9 370.1 1413.4 369.6C1418.0 369.1 1423.0 369.0 1427.8 368.9C1432.6 368.8 1437.3 368.5 1442.1 369.1C1446.9 369.7 1451.7 371.5 1456.5 372.4C1461.3 373.3 1466.1 373.8 1470.9 374.6C1475.7 375.5 1480.4 376.2 1485.2 377.5C1490.0 378.8 1494.8 380.9 1499.6 382.5C1504.4 384.1 1509.2 385.4 1514.0 386.8C1518.8 388.2 1523.5 389.3 1528.3 391.1C1533.1 392.9 1537.9 395.7 1542.7 397.6C1547.5 399.5 1553.0 401.7 1557.1 402.6C1561.2 403.6 1563.8 402.7 1567.1 403.3C1570.4 403.9 1574.1 404.5 1577.2 406.2C1580.3 407.9 1583.2 411.2 1585.8 413.4C1588.4 415.6 1590.5 417.9 1593.0 419.5C1595.5 421.1 1598.4 421.8 1601.0 422.8C1603.6 423.8 1605.9 424.6 1608.8 425.3C1611.7 426.0 1615.2 427.1 1618.4 426.8C1621.6 426.6 1624.7 425.2 1628.0 423.8C1631.3 422.4 1634.8 421.1 1638.3 418.7C1641.8 416.2 1645.2 412.3 1648.7 409.1C1652.2 405.9 1655.8 402.0 1659.0 399.5C1662.2 397.0 1664.6 395.5 1667.8 394.3C1671.0 393.1 1674.6 392.2 1678.1 392.1C1681.5 392.0 1685.5 392.6 1688.5 393.6C1691.5 394.6 1693.3 395.8 1695.8 398.0C1698.2 400.2 1700.7 403.4 1703.2 406.9C1705.7 410.3 1708.1 414.3 1710.6 418.7C1713.0 423.1 1715.5 427.8 1717.9 433.4C1720.4 439.0 1722.8 445.5 1725.3 452.6C1727.8 459.7 1730.5 468.2 1732.7 476.1C1734.9 484.0 1736.8 491.3 1738.6 499.7C1740.4 508.1 1742.1 517.2 1743.7 526.3C1745.3 535.4 1746.9 544.7 1748.2 554.3C1749.5 563.9 1750.6 575.5 1751.6 583.8C1752.6 592.1 1753.3 598.2 1754.2 604.0C1755.1 609.8 1756.0 618.5 1757.0 618.5C1758.0 618.5 1759.0 611.0 1760.0 604.0C1761.0 597.0 1762.1 587.1 1763.1 576.4C1764.1 565.6 1765.0 551.3 1765.9 539.5C1766.9 527.7 1767.7 515.7 1768.8 505.6C1769.9 495.5 1771.2 487.2 1772.5 479.1C1773.8 471.0 1775.2 462.9 1776.9 457.0C1778.6 451.1 1780.3 447.6 1782.8 443.7C1785.3 439.8 1788.5 437.3 1791.7 433.4C1794.9 429.5 1798.8 424.5 1802.0 420.1C1805.2 415.7 1807.8 410.5 1810.8 406.9C1813.8 403.3 1816.8 400.4 1819.7 398.7C1822.7 397.0 1825.5 396.5 1828.5 396.5C1831.5 396.5 1834.5 397.0 1837.4 398.7C1840.4 400.4 1843.3 403.1 1846.2 406.9C1849.1 410.7 1852.0 416.0 1855.0 421.6C1858.0 427.2 1861.0 433.7 1863.9 440.8C1866.9 447.9 1869.9 456.9 1872.7 464.4C1875.5 471.9 1878.2 479.1 1880.8 486.0C1883.4 492.9 1885.6 499.4 1888.2 506.0C1890.8 512.6 1893.7 519.5 1896.4 525.8C1899.2 532.1 1902.0 537.2 1904.7 543.8C1907.5 550.4 1910.2 558.9 1912.9 565.2C1915.6 571.5 1918.4 576.4 1921.1 581.6C1923.8 586.8 1927.1 591.5 1929.3 596.4C1931.5 601.3 1932.5 605.2 1934.2 611.2C1935.9 617.2 1937.6 625.8 1939.2 632.6C1940.8 639.5 1942.2 647.1 1944.1 652.3C1946.0 657.5 1948.5 660.3 1950.7 663.9C1952.9 667.5 1955.2 669.9 1957.3 673.7C1959.3 677.5 1961.2 682.0 1963.0 686.9C1964.8 691.8 1966.2 697.8 1967.9 703.3C1969.6 708.8 1971.2 715.0 1972.9 719.7C1974.6 724.4 1976.2 730.2 1977.8 731.3C1979.4 732.4 1981.2 730.4 1982.7 726.3C1984.2 722.2 1985.7 714.8 1986.9 706.6C1988.1 698.4 1989.0 686.9 1990.1 677.0C1991.2 667.1 1992.2 657.3 1993.4 647.4C1994.6 637.5 1996.0 627.1 1997.5 617.8C1999.0 608.5 2000.7 599.7 2002.5 591.5C2004.3 583.3 2006.2 576.2 2008.2 568.5C2010.2 560.8 2012.6 552.6 2014.8 545.5C2017.0 538.4 2019.2 531.5 2021.4 525.8C2023.6 520.0 2025.8 516.5 2028.0 511.0C2030.2 505.5 2032.5 498.4 2034.5 492.9C2036.5 487.4 2038.5 481.4 2040.3 478.1C2042.1 474.8 2043.4 473.5 2045.2 473.2C2047.0 472.9 2049.1 473.7 2051.0 476.4C2052.9 479.1 2054.8 484.9 2056.7 489.6C2058.6 494.3 2060.6 500.7 2062.5 504.4C2064.4 508.1 2066.3 510.7 2068.2 511.8C2070.1 512.9 2071.7 512.8 2074.0 511.0C2076.3 509.2 2079.4 504.7 2082.2 501.1C2085.0 497.5 2088.1 494.6 2091.0 489.5C2093.9 484.4 2096.8 477.0 2099.9 470.5C2103.0 464.0 2106.4 456.9 2109.7 450.5C2113.0 444.1 2116.0 438.0 2119.6 431.9C2123.2 425.8 2127.3 419.0 2131.1 413.8C2134.9 408.6 2138.5 404.8 2142.6 400.7C2146.7 396.6 2151.4 393.0 2155.8 389.2C2160.2 385.4 2164.5 381.4 2168.9 377.7C2173.3 374.0 2177.7 370.4 2182.1 367.0C2186.5 363.6 2191.1 360.0 2195.2 357.1C2199.3 354.2 2203.1 351.5 2206.7 349.7C2210.3 347.9 2213.7 346.4 2216.6 346.4C2219.5 346.4 2221.9 347.2 2224.0 349.7C2226.1 352.2 2227.5 356.3 2228.9 361.2C2230.3 366.1 2231.1 372.4 2232.2 379.3C2233.3 386.2 2234.4 394.1 2235.5 402.3C2236.6 410.5 2237.7 419.8 2238.8 428.6C2239.9 437.4 2240.9 446.7 2242.1 454.9C2243.3 463.1 2244.6 471.1 2246.2 478.0C2247.8 484.9 2250.3 490.2 2251.9 496.0C2253.5 501.8 2254.8 506.5 2256.0 512.5C2257.2 518.5 2258.4 525.4 2259.3 532.2C2260.2 539.1 2260.8 546.0 2261.5 553.6C2262.2 561.2 2263.0 571.3 2263.6 578.0C2264.2 584.7 2264.7 590.1 2265.3 594.0C2265.9 597.9 2266.7 601.6 2267.4 601.6C2268.2 601.6 2269.0 597.6 2269.8 594.0C2270.6 590.4 2271.1 585.6 2272.0 580.0C2272.9 574.4 2274.1 567.5 2275.0 560.1C2275.9 552.7 2276.6 543.7 2277.4 535.5C2278.2 527.3 2278.8 518.2 2279.9 510.8C2281.0 503.4 2281.9 496.0 2284.0 491.1C2286.1 486.2 2289.9 485.0 2292.2 481.2C2294.5 477.4 2296.3 473.6 2298.0 468.1C2299.7 462.6 2300.6 455.5 2302.1 448.4C2303.6 441.3 2305.1 431.6 2307.0 425.3C2308.9 419.0 2310.9 414.4 2313.6 410.6C2316.3 406.8 2320.4 405.3 2323.4 402.3C2326.4 399.3 2329.2 396.1 2331.7 392.5C2334.2 388.9 2335.7 383.8 2338.2 381.0C2340.7 378.2 2344.0 376.7 2346.5 376.0C2349.0 375.3 2350.9 375.2 2353.0 376.9C2355.1 378.5 2357.2 381.9 2358.8 385.9C2360.5 389.9 2361.5 395.2 2362.9 400.7C2364.3 406.2 2366.6 415.9 2367.3 419.0L2367.3 602.6" stroke="#ff0018" stroke-width="9.0"/>
<path class="crv" d="M166.0 174.0C166.6 174.6 167.9 175.8 169.3 177.4C170.7 179.1 172.4 182.1 174.4 183.9C176.4 185.7 178.7 187.2 181.6 188.2C184.5 189.1 187.5 189.6 191.6 189.6C195.7 189.6 201.2 188.8 206.0 188.2C210.8 187.6 215.5 187.0 220.3 186.3C225.1 185.6 229.9 184.6 234.7 183.9C239.5 183.2 244.3 182.6 249.1 182.0C253.9 181.4 259.1 180.5 263.4 180.6C267.7 180.7 271.5 181.5 274.9 182.4C278.3 183.3 281.0 185.0 283.6 186.0C286.2 187.0 288.1 188.2 290.7 188.6C293.3 189.0 296.8 189.0 299.4 188.6C302.0 188.2 304.0 187.3 306.6 186.0C309.2 184.7 312.3 182.2 315.2 181.0C318.1 179.8 321.2 179.1 323.8 178.9C326.4 178.7 328.6 178.9 331.0 179.6C333.4 180.3 335.6 182.1 338.2 183.2C340.8 184.3 343.0 185.6 346.8 186.3C350.6 187.0 356.3 187.2 361.1 187.5C365.9 187.8 370.9 187.7 375.5 188.2C380.1 188.7 384.3 189.4 388.4 190.3C392.5 191.2 396.1 192.3 399.9 193.9C403.7 195.5 407.6 197.7 411.4 199.7C415.2 201.7 418.8 204.1 422.9 206.1C427.0 208.1 431.3 210.3 435.9 211.9C440.4 213.5 445.4 214.4 450.2 215.5C454.9 216.6 459.6 217.6 464.4 218.7C469.1 219.8 473.9 221.1 478.7 221.9C483.5 222.7 488.3 223.2 493.1 223.6C497.9 224.0 502.7 224.4 507.5 224.5C512.3 224.6 517.0 224.5 521.8 224.1C526.6 223.7 530.2 223.0 536.2 222.2C542.2 221.4 550.6 220.4 557.8 219.5C565.0 218.6 572.1 217.8 579.3 216.9C586.5 216.1 593.7 215.1 600.9 214.4C608.1 213.8 615.2 213.5 622.4 213.0C629.6 212.5 636.8 212.2 644.0 211.6C651.2 211.0 658.3 210.4 665.5 209.7C672.7 209.0 679.9 208.2 687.1 207.5C694.3 206.8 701.4 206.1 708.6 205.4C715.8 204.7 724.1 203.7 730.2 203.2C736.3 202.7 739.8 202.7 745.0 202.3C750.2 201.9 755.2 201.1 761.6 200.6C768.0 200.1 775.9 199.5 783.1 199.2C790.3 198.9 797.5 198.8 804.7 198.9C811.9 199.1 819.0 199.7 826.2 200.1C833.4 200.5 840.6 200.8 847.8 201.1C855.0 201.4 863.3 202.0 869.3 202.1C875.3 202.2 877.7 202.1 883.7 201.8C889.7 201.5 898.0 200.9 905.2 200.3C912.4 199.7 919.6 198.9 926.8 198.2C934.0 197.5 941.1 196.9 948.3 196.3C955.5 195.8 963.4 195.1 969.9 194.9C976.4 194.7 981.1 194.6 987.1 194.9C993.1 195.2 1000.3 196.0 1005.8 196.8C1011.3 197.6 1015.3 198.7 1020.2 199.6C1025.1 200.5 1029.8 201.5 1035.0 202.5C1040.2 203.5 1045.2 204.6 1051.6 205.4C1057.9 206.2 1065.9 206.9 1073.1 207.5C1080.3 208.1 1087.5 208.5 1094.7 209.0C1101.9 209.5 1110.2 210.1 1116.2 210.7C1122.2 211.3 1127.0 211.9 1130.6 212.6C1134.2 213.3 1135.4 214.7 1137.8 214.7C1140.2 214.7 1142.4 214.3 1145.0 212.6C1147.6 210.9 1150.7 207.6 1153.6 204.7C1156.5 201.8 1159.6 197.9 1162.2 195.3C1164.8 192.7 1166.9 190.5 1169.4 188.9C1171.9 187.3 1174.7 185.7 1177.3 185.7C1179.9 185.7 1182.5 187.1 1185.2 188.9C1188.0 190.8 1190.9 194.3 1193.8 196.8C1196.7 199.3 1199.5 201.8 1202.4 203.9C1205.3 206.1 1208.2 208.4 1211.1 209.7C1214.0 211.0 1216.3 211.6 1219.7 211.9C1223.1 212.2 1225.7 211.9 1231.2 211.6C1236.7 211.3 1245.5 210.5 1252.7 210.1C1259.9 209.7 1267.1 209.7 1274.3 209.3C1281.5 208.9 1288.6 208.2 1295.8 207.8C1303.0 207.4 1308.6 207.2 1317.4 206.9C1326.2 206.6 1338.7 206.2 1348.7 205.8C1358.7 205.4 1367.9 205.0 1377.5 204.7C1387.1 204.4 1397.4 204.3 1406.2 203.9C1415.0 203.5 1423.4 202.6 1430.6 202.5C1437.8 202.4 1441.4 203.3 1449.3 203.5C1457.2 203.7 1468.4 203.7 1478.0 203.9C1487.6 204.1 1497.2 204.4 1506.8 204.7C1516.4 205.0 1528.3 205.6 1535.5 205.8C1542.7 206.0 1545.1 206.3 1549.9 206.1C1554.7 205.9 1559.5 204.6 1564.3 204.7C1569.1 204.8 1573.8 205.4 1578.6 206.4C1583.4 207.4 1588.2 209.5 1593.0 210.7C1597.8 211.9 1603.1 212.8 1607.4 213.8C1611.7 214.8 1615.0 216.0 1618.6 216.8C1622.1 217.6 1625.3 218.5 1628.7 218.7C1632.1 218.9 1635.4 219.0 1638.7 217.8C1642.0 216.7 1645.4 213.9 1648.8 211.8C1652.2 209.7 1655.6 207.2 1658.9 205.3C1662.2 203.4 1665.8 201.5 1668.9 200.3C1672.0 199.1 1674.4 198.1 1677.5 198.1C1680.6 198.1 1684.0 199.3 1687.6 200.3C1691.2 201.3 1695.3 202.6 1699.1 203.9C1702.9 205.2 1706.3 206.6 1710.6 208.2C1714.9 209.8 1720.6 211.6 1724.9 213.2C1729.2 214.8 1732.8 216.6 1736.4 217.8C1740.0 219.1 1742.9 220.2 1746.5 220.7C1750.1 221.2 1753.9 221.0 1758.0 220.7C1762.1 220.4 1766.4 219.6 1770.9 219.0C1775.5 218.4 1780.5 218.0 1785.3 217.2C1790.1 216.4 1795.4 215.2 1799.7 214.4C1804.0 213.6 1807.3 212.5 1811.1 212.1C1814.9 211.7 1818.8 211.5 1822.6 211.8C1826.4 212.1 1830.3 212.7 1834.1 213.9C1837.9 215.1 1841.8 217.1 1845.6 219.0C1849.4 220.9 1853.3 223.1 1857.1 225.4C1860.9 227.7 1864.8 230.7 1868.6 233.0C1872.4 235.3 1876.3 237.2 1880.1 239.1C1883.9 240.9 1887.8 242.6 1891.6 244.1C1895.4 245.6 1899.3 246.8 1903.1 248.3C1906.9 249.8 1910.1 251.3 1914.4 253.3C1918.7 255.3 1923.9 257.7 1928.7 260.5C1933.5 263.3 1938.3 266.8 1943.1 269.9C1947.9 273.0 1953.2 276.3 1957.5 279.2C1961.8 282.1 1965.4 285.0 1969.0 287.1C1972.6 289.2 1975.9 291.6 1979.0 291.8C1982.1 292.0 1984.7 290.7 1987.6 288.5C1990.5 286.3 1993.4 282.3 1996.3 278.5C1999.2 274.7 2002.0 269.4 2004.9 265.5C2007.8 261.6 2010.4 258.2 2013.5 254.8C2016.6 251.5 2020.2 248.3 2023.6 245.4C2026.9 242.5 2030.5 239.5 2033.6 237.5C2036.7 235.5 2039.1 233.9 2042.2 233.2C2045.3 232.5 2049.2 232.6 2052.3 233.2C2055.4 233.8 2058.0 235.6 2060.9 236.8C2063.8 238.0 2066.6 239.7 2069.5 240.4C2072.4 241.1 2075.1 241.6 2078.2 241.1C2081.3 240.6 2084.4 239.2 2088.2 237.5C2092.0 235.8 2096.5 233.5 2101.1 231.1C2105.7 228.7 2110.7 225.7 2115.5 223.2C2120.3 220.7 2125.1 218.3 2129.9 216.0C2134.7 213.7 2139.5 211.4 2144.3 209.5C2149.1 207.6 2153.8 206.2 2158.6 204.5C2163.4 202.8 2168.2 201.2 2173.0 199.5C2177.8 197.8 2183.7 195.3 2187.4 194.0C2191.1 192.7 2192.5 192.4 2195.3 191.4C2198.1 190.4 2201.7 188.8 2204.3 188.1C2206.9 187.4 2208.7 187.2 2210.8 187.5C2213.0 187.8 2215.0 188.4 2217.2 190.1C2219.3 191.8 2221.5 194.6 2223.7 197.8C2225.9 201.0 2228.0 205.4 2230.2 209.5C2232.3 213.6 2234.4 217.9 2236.6 222.4C2238.8 226.9 2240.9 231.6 2243.1 236.6C2245.3 241.6 2247.7 247.4 2249.6 252.2C2251.5 256.9 2253.1 261.7 2254.7 265.1C2256.3 268.5 2257.8 271.1 2259.3 272.8C2260.8 274.5 2262.2 275.1 2263.8 275.2C2265.4 275.3 2267.1 275.0 2269.0 273.5C2270.9 272.0 2273.2 269.7 2275.4 266.4C2277.6 263.1 2279.7 258.2 2281.9 253.5C2284.1 248.8 2286.2 242.7 2288.4 237.9C2290.6 233.2 2292.4 228.7 2294.8 225.0C2297.2 221.3 2299.6 219.0 2302.6 216.0C2305.6 213.0 2309.4 209.7 2312.9 206.9C2316.4 204.1 2319.9 201.5 2323.3 199.1C2326.8 196.7 2330.4 194.3 2333.6 192.7C2336.8 191.1 2339.9 189.9 2342.7 189.4C2345.5 188.9 2347.8 188.9 2350.4 189.4C2353.0 189.9 2355.9 191.6 2358.2 192.7C2360.5 193.8 2362.4 194.6 2364.0 195.8C2365.6 197.0 2366.9 199.3 2367.5 200.0L2367.5 307.0" stroke="#00ff00" stroke-width="10.4"/>
</g>
<line x1="1619.0" y1="416.2" x2="1619.0" y2="1374.2" stroke="#1d262b" stroke-width="5.2"/>
<line x1="1756.9" y1="594.0" x2="1756.9" y2="1549.0" stroke="#1d262b" stroke-width="5.2"/>
<line x1="1977.8" y1="695.0" x2="1977.8" y2="1650.8" stroke="#1d262b" stroke-width="5.2"/>
<line x1="2072.6" y1="500.2" x2="2072.6" y2="1458.3" stroke="#1d262b" stroke-width="5.2"/>
<line x1="2267.4" y1="581.0" x2="2267.4" y2="1538.0" stroke="#1d262b" stroke-width="5.2"/>
<text class="ser" transform="translate(168.5 1920.9) scale(0.9915 1)" font-size="88.4" text-anchor="middle">4000</text>
<text class="ser" transform="translate(474.1 1920.9) scale(0.9915 1)" font-size="88.4" text-anchor="middle">3500</text>
<text class="ser" transform="translate(779.7 1920.9) scale(0.9915 1)" font-size="88.4" text-anchor="middle">3000</text>
<text class="ser" transform="translate(1085.3 1920.9) scale(0.9915 1)" font-size="88.4" text-anchor="middle">2500</text>
<text class="ser" transform="translate(1390.9 1920.9) scale(0.9915 1)" font-size="88.4" text-anchor="middle">2000</text>
<text class="ser" transform="translate(1696.5 1920.9) scale(0.9915 1)" font-size="88.4" text-anchor="middle">1500</text>
<text class="ser" transform="translate(2002.1 1920.9) scale(0.9915 1)" font-size="88.4" text-anchor="middle">1000</text>
<text class="ser" transform="translate(2307.7 1920.9) scale(0.9915 1)" font-size="88.4" text-anchor="middle">500</text>
<text class="ser" x="893.7" y="2019.4" font-size="87.8">Wavenumber (cm<tspan font-size="52" dy="-48.2">-1</tspan><tspan dy="48.2" dx="1.6">)</tspan></text>
<text class="ser" transform="translate(107.5 1345.9) rotate(-90) scale(1.0337 1)" font-size="86.6" fill="#000">Transmittance (%)</text>
<text class="sb" transform="translate(168.5 269.6) scale(1.0215 1)" font-size="75.5" fill="#000">(e)</text>
<text class="sb" transform="translate(171.8 425.1) scale(1.0315 1)" font-size="75.8" fill="#000">(d)</text>
<text class="sb" transform="translate(175.6 865.8) scale(1.0380 1)" font-size="76.4" fill="#000">(c)</text>
<text class="sb" transform="translate(180.4 1286.0) scale(1.0388 1)" font-size="76.7" fill="#000">(b)</text>
<text class="sb" transform="translate(183.5 1716.9) scale(1.0715 1)" font-size="72.4" fill="#000">(a)</text>
<text class="sn" transform="translate(470.4 1688.2) scale(0.9761 1)" font-size="66.6" fill="#000" stroke="#000">3457</text>
<text class="sn" transform="translate(1557.1 1759.5) scale(0.9723 1)" font-size="67.7" fill="#000" stroke="#000">1596</text>
<text class="sn" transform="translate(1795.6 1777.6) scale(0.9489 1)" font-size="69.1" fill="#000" stroke="#000">1107</text>
<text class="sn" transform="translate(419.4 1504.3) scale(0.9470 1)" font-size="69.7" fill="#0a2cff" stroke="#0a2cff">3522-3071</text>
<text class="sn" transform="translate(842.0 1657.3) rotate(-90) scale(0.9555 1)" font-size="69.5" fill="#000" stroke="#000">2908</text>
<text class="sn" transform="translate(914.0 1655.0) rotate(-90) scale(0.9748 1)" font-size="68.7" fill="#000" stroke="#000">2827</text>
<text class="sn" transform="translate(1632.2 1521.5) rotate(-90) scale(0.9816 1)" font-size="67.7" fill="#0a2cff" stroke="#0a2cff">1638</text>
<text class="sn" transform="translate(1741.1 1634.1) rotate(-90) scale(0.9684 1)" font-size="69.3" fill="#0a2cff" stroke="#0a2cff">1409</text>
<text class="sn" transform="translate(1833.3 1679.7) rotate(-90) scale(0.9679 1)" font-size="69.3" fill="#000" stroke="#000">1268</text>
<text class="sn" transform="translate(1956.7 1696.3) rotate(-90) scale(0.9816 1)" font-size="67.7" fill="#0a2cff" stroke="#0a2cff">1033</text>
<text class="sn" transform="translate(2102.8 1598.0) rotate(-90) scale(0.9367 1)" font-size="70.5" fill="#0a2cff" stroke="#0a2cff">885</text>
<text class="sn" transform="translate(2269.5 1651.3) rotate(-90) scale(0.9428 1)" font-size="70.0" fill="#0a2cff" stroke="#0a2cff">575</text>
<text class="sn" transform="translate(2098.4 1777.2) rotate(-90) scale(0.9340 1)" font-size="69.7" fill="#000" stroke="#000">892</text>
</g>
</svg>
</body></html>
